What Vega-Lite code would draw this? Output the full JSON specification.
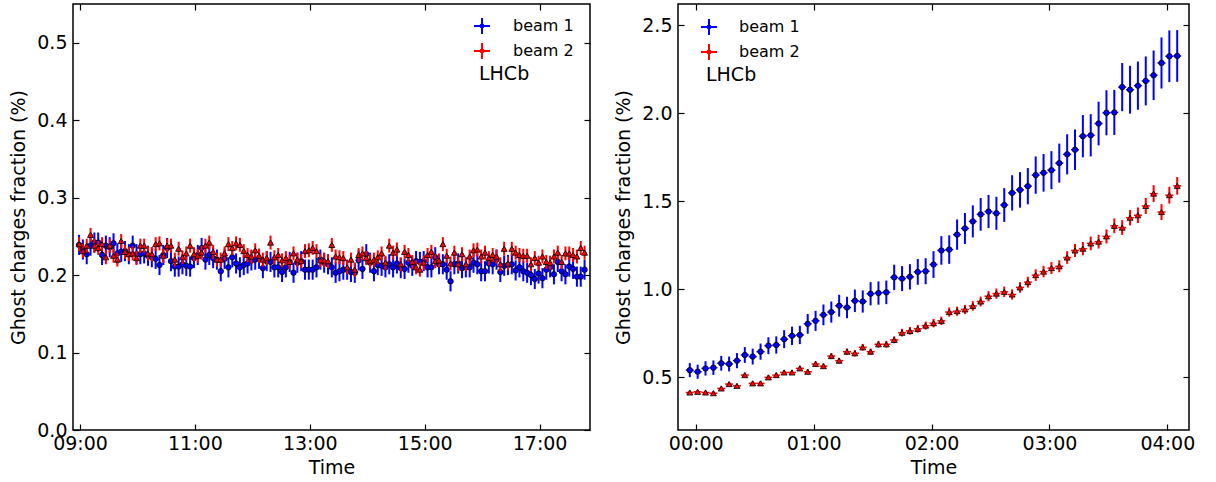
{
"$schema": "https://vega.github.io/schema/vega-lite/v6.json",
"padding": {"left": 9, "top": 2, "right": 0, "bottom": 0},
"config": {
  "font": "DejaVu Sans",
  "view": {"stroke": "black", "strokeWidth": 1.5},
  "axis": {"domain": false, "grid": false, "tickColor": "black", "tickWidth": 1.2, "labelColor": "black", "titleColor": "black", "labelFontSize": 19, "titleFontSize": 19, "titleFontWeight": "normal", "labelFont": "DejaVu Sans", "titleFont": "DejaVu Sans", "labelFlush": false, "labelOverlap": false}
},
"datasets": {
"left": [
{"t":"2000-01-01T08:59","b":0.239,"be":0.013,"r":0.240,"re":0.009},
{"t":"2000-01-01T09:03","b":0.233,"be":0.013,"r":0.231,"re":0.009},
{"t":"2000-01-01T09:07","b":0.227,"be":0.013,"r":0.238,"re":0.009},
{"t":"2000-01-01T09:11","b":0.238,"be":0.013,"r":0.252,"re":0.009},
{"t":"2000-01-01T09:15","b":0.242,"be":0.013,"r":0.238,"re":0.009},
{"t":"2000-01-01T09:19","b":0.242,"be":0.013,"r":0.235,"re":0.009},
{"t":"2000-01-01T09:23","b":0.226,"be":0.013,"r":0.240,"re":0.009},
{"t":"2000-01-01T09:27","b":0.238,"be":0.013,"r":0.223,"re":0.009},
{"t":"2000-01-01T09:31","b":0.236,"be":0.013,"r":0.238,"re":0.009},
{"t":"2000-01-01T09:35","b":0.241,"be":0.013,"r":0.225,"re":0.009},
{"t":"2000-01-01T09:39","b":0.228,"be":0.013,"r":0.220,"re":0.009},
{"t":"2000-01-01T09:43","b":0.230,"be":0.013,"r":0.244,"re":0.009},
{"t":"2000-01-01T09:47","b":0.231,"be":0.013,"r":0.230,"re":0.009},
{"t":"2000-01-01T09:51","b":0.227,"be":0.013,"r":0.227,"re":0.009},
{"t":"2000-01-01T09:55","b":0.238,"be":0.013,"r":0.228,"re":0.009},
{"t":"2000-01-01T09:59","b":0.227,"be":0.013,"r":0.222,"re":0.009},
{"t":"2000-01-01T10:03","b":0.227,"be":0.013,"r":0.238,"re":0.009},
{"t":"2000-01-01T10:07","b":0.228,"be":0.013,"r":0.238,"re":0.009},
{"t":"2000-01-01T10:11","b":0.225,"be":0.013,"r":0.228,"re":0.009},
{"t":"2000-01-01T10:15","b":0.223,"be":0.013,"r":0.227,"re":0.009},
{"t":"2000-01-01T10:19","b":0.221,"be":0.013,"r":0.240,"re":0.009},
{"t":"2000-01-01T10:23","b":0.213,"be":0.013,"r":0.241,"re":0.009},
{"t":"2000-01-01T10:27","b":0.226,"be":0.013,"r":0.225,"re":0.009},
{"t":"2000-01-01T10:31","b":0.235,"be":0.013,"r":0.238,"re":0.009},
{"t":"2000-01-01T10:35","b":0.218,"be":0.013,"r":0.238,"re":0.009},
{"t":"2000-01-01T10:39","b":0.211,"be":0.013,"r":0.220,"re":0.009},
{"t":"2000-01-01T10:43","b":0.211,"be":0.013,"r":0.234,"re":0.009},
{"t":"2000-01-01T10:47","b":0.214,"be":0.013,"r":0.223,"re":0.009},
{"t":"2000-01-01T10:51","b":0.212,"be":0.013,"r":0.228,"re":0.009},
{"t":"2000-01-01T10:55","b":0.211,"be":0.013,"r":0.238,"re":0.009},
{"t":"2000-01-01T10:59","b":0.222,"be":0.013,"r":0.227,"re":0.009},
{"t":"2000-01-01T11:03","b":0.226,"be":0.013,"r":0.225,"re":0.009},
{"t":"2000-01-01T11:07","b":0.235,"be":0.013,"r":0.229,"re":0.009},
{"t":"2000-01-01T11:11","b":0.220,"be":0.013,"r":0.238,"re":0.009},
{"t":"2000-01-01T11:15","b":0.226,"be":0.013,"r":0.242,"re":0.009},
{"t":"2000-01-01T11:19","b":0.222,"be":0.013,"r":0.230,"re":0.009},
{"t":"2000-01-01T11:23","b":0.220,"be":0.013,"r":0.220,"re":0.009},
{"t":"2000-01-01T11:27","b":0.205,"be":0.013,"r":0.220,"re":0.009},
{"t":"2000-01-01T11:31","b":0.221,"be":0.013,"r":0.228,"re":0.009},
{"t":"2000-01-01T11:35","b":0.210,"be":0.013,"r":0.240,"re":0.009},
{"t":"2000-01-01T11:39","b":0.223,"be":0.013,"r":0.235,"re":0.009},
{"t":"2000-01-01T11:43","b":0.215,"be":0.013,"r":0.241,"re":0.009},
{"t":"2000-01-01T11:47","b":0.210,"be":0.013,"r":0.239,"re":0.009},
{"t":"2000-01-01T11:51","b":0.213,"be":0.013,"r":0.231,"re":0.009},
{"t":"2000-01-01T11:55","b":0.215,"be":0.013,"r":0.226,"re":0.009},
{"t":"2000-01-01T11:59","b":0.219,"be":0.013,"r":0.224,"re":0.009},
{"t":"2000-01-01T12:03","b":0.220,"be":0.013,"r":0.232,"re":0.009},
{"t":"2000-01-01T12:07","b":0.221,"be":0.013,"r":0.225,"re":0.009},
{"t":"2000-01-01T12:11","b":0.209,"be":0.013,"r":0.220,"re":0.009},
{"t":"2000-01-01T12:15","b":0.218,"be":0.013,"r":0.222,"re":0.009},
{"t":"2000-01-01T12:19","b":0.217,"be":0.013,"r":0.242,"re":0.009},
{"t":"2000-01-01T12:23","b":0.210,"be":0.013,"r":0.223,"re":0.009},
{"t":"2000-01-01T12:27","b":0.210,"be":0.013,"r":0.226,"re":0.009},
{"t":"2000-01-01T12:31","b":0.204,"be":0.013,"r":0.219,"re":0.009},
{"t":"2000-01-01T12:35","b":0.210,"be":0.013,"r":0.222,"re":0.009},
{"t":"2000-01-01T12:39","b":0.217,"be":0.013,"r":0.217,"re":0.009},
{"t":"2000-01-01T12:43","b":0.203,"be":0.013,"r":0.228,"re":0.009},
{"t":"2000-01-01T12:47","b":0.216,"be":0.013,"r":0.220,"re":0.009},
{"t":"2000-01-01T12:51","b":0.218,"be":0.013,"r":0.218,"re":0.009},
{"t":"2000-01-01T12:55","b":0.207,"be":0.013,"r":0.231,"re":0.009},
{"t":"2000-01-01T12:59","b":0.207,"be":0.013,"r":0.232,"re":0.009},
{"t":"2000-01-01T13:03","b":0.207,"be":0.013,"r":0.235,"re":0.009},
{"t":"2000-01-01T13:07","b":0.210,"be":0.013,"r":0.231,"re":0.009},
{"t":"2000-01-01T13:11","b":0.220,"be":0.013,"r":0.219,"re":0.009},
{"t":"2000-01-01T13:15","b":0.216,"be":0.013,"r":0.219,"re":0.009},
{"t":"2000-01-01T13:19","b":0.214,"be":0.013,"r":0.218,"re":0.009},
{"t":"2000-01-01T13:23","b":0.210,"be":0.013,"r":0.239,"re":0.009},
{"t":"2000-01-01T13:27","b":0.203,"be":0.013,"r":0.224,"re":0.009},
{"t":"2000-01-01T13:31","b":0.205,"be":0.013,"r":0.223,"re":0.009},
{"t":"2000-01-01T13:35","b":0.207,"be":0.013,"r":0.222,"re":0.009},
{"t":"2000-01-01T13:39","b":0.207,"be":0.013,"r":0.210,"re":0.009},
{"t":"2000-01-01T13:43","b":0.204,"be":0.013,"r":0.220,"re":0.009},
{"t":"2000-01-01T13:47","b":0.203,"be":0.013,"r":0.207,"re":0.009},
{"t":"2000-01-01T13:51","b":0.219,"be":0.013,"r":0.226,"re":0.009},
{"t":"2000-01-01T13:55","b":0.208,"be":0.013,"r":0.228,"re":0.009},
{"t":"2000-01-01T13:59","b":0.227,"be":0.013,"r":0.222,"re":0.009},
{"t":"2000-01-01T14:03","b":0.216,"be":0.013,"r":0.218,"re":0.009},
{"t":"2000-01-01T14:07","b":0.205,"be":0.013,"r":0.220,"re":0.009},
{"t":"2000-01-01T14:11","b":0.213,"be":0.013,"r":0.223,"re":0.009},
{"t":"2000-01-01T14:15","b":0.212,"be":0.013,"r":0.228,"re":0.009},
{"t":"2000-01-01T14:19","b":0.210,"be":0.013,"r":0.216,"re":0.009},
{"t":"2000-01-01T14:23","b":0.214,"be":0.013,"r":0.238,"re":0.009},
{"t":"2000-01-01T14:27","b":0.210,"be":0.013,"r":0.229,"re":0.009},
{"t":"2000-01-01T14:31","b":0.215,"be":0.013,"r":0.233,"re":0.009},
{"t":"2000-01-01T14:35","b":0.209,"be":0.013,"r":0.214,"re":0.009},
{"t":"2000-01-01T14:39","b":0.208,"be":0.013,"r":0.230,"re":0.009},
{"t":"2000-01-01T14:43","b":0.216,"be":0.013,"r":0.226,"re":0.009},
{"t":"2000-01-01T14:47","b":0.212,"be":0.013,"r":0.217,"re":0.009},
{"t":"2000-01-01T14:51","b":0.218,"be":0.013,"r":0.210,"re":0.009},
{"t":"2000-01-01T14:55","b":0.217,"be":0.013,"r":0.207,"re":0.009},
{"t":"2000-01-01T14:59","b":0.218,"be":0.013,"r":0.216,"re":0.009},
{"t":"2000-01-01T15:03","b":0.210,"be":0.013,"r":0.226,"re":0.009},
{"t":"2000-01-01T15:07","b":0.210,"be":0.013,"r":0.230,"re":0.009},
{"t":"2000-01-01T15:11","b":0.223,"be":0.013,"r":0.218,"re":0.009},
{"t":"2000-01-01T15:15","b":0.214,"be":0.013,"r":0.219,"re":0.009},
{"t":"2000-01-01T15:19","b":0.214,"be":0.013,"r":0.240,"re":0.009},
{"t":"2000-01-01T15:23","b":0.207,"be":0.013,"r":0.225,"re":0.009},
{"t":"2000-01-01T15:27","b":0.192,"be":0.013,"r":0.215,"re":0.009},
{"t":"2000-01-01T15:31","b":0.214,"be":0.013,"r":0.229,"re":0.009},
{"t":"2000-01-01T15:35","b":0.215,"be":0.013,"r":0.214,"re":0.009},
{"t":"2000-01-01T15:39","b":0.209,"be":0.013,"r":0.227,"re":0.009},
{"t":"2000-01-01T15:43","b":0.210,"be":0.013,"r":0.214,"re":0.009},
{"t":"2000-01-01T15:47","b":0.210,"be":0.013,"r":0.224,"re":0.009},
{"t":"2000-01-01T15:51","b":0.216,"be":0.013,"r":0.232,"re":0.009},
{"t":"2000-01-01T15:55","b":0.214,"be":0.013,"r":0.233,"re":0.009},
{"t":"2000-01-01T15:59","b":0.205,"be":0.013,"r":0.224,"re":0.009},
{"t":"2000-01-01T16:03","b":0.205,"be":0.013,"r":0.229,"re":0.009},
{"t":"2000-01-01T16:07","b":0.215,"be":0.013,"r":0.222,"re":0.009},
{"t":"2000-01-01T16:11","b":0.214,"be":0.013,"r":0.226,"re":0.009},
{"t":"2000-01-01T16:15","b":0.220,"be":0.013,"r":0.224,"re":0.009},
{"t":"2000-01-01T16:19","b":0.204,"be":0.013,"r":0.214,"re":0.009},
{"t":"2000-01-01T16:23","b":0.212,"be":0.013,"r":0.234,"re":0.009},
{"t":"2000-01-01T16:27","b":0.213,"be":0.013,"r":0.215,"re":0.009},
{"t":"2000-01-01T16:31","b":0.214,"be":0.013,"r":0.234,"re":0.009},
{"t":"2000-01-01T16:35","b":0.206,"be":0.013,"r":0.229,"re":0.009},
{"t":"2000-01-01T16:39","b":0.210,"be":0.013,"r":0.226,"re":0.009},
{"t":"2000-01-01T16:43","b":0.205,"be":0.013,"r":0.225,"re":0.009},
{"t":"2000-01-01T16:47","b":0.203,"be":0.013,"r":0.225,"re":0.009},
{"t":"2000-01-01T16:51","b":0.200,"be":0.013,"r":0.214,"re":0.009},
{"t":"2000-01-01T16:55","b":0.195,"be":0.013,"r":0.222,"re":0.009},
{"t":"2000-01-01T16:59","b":0.202,"be":0.013,"r":0.216,"re":0.009},
{"t":"2000-01-01T17:03","b":0.196,"be":0.013,"r":0.224,"re":0.009},
{"t":"2000-01-01T17:07","b":0.207,"be":0.013,"r":0.217,"re":0.009},
{"t":"2000-01-01T17:11","b":0.210,"be":0.013,"r":0.216,"re":0.009},
{"t":"2000-01-01T17:15","b":0.201,"be":0.013,"r":0.224,"re":0.009},
{"t":"2000-01-01T17:19","b":0.217,"be":0.013,"r":0.229,"re":0.009},
{"t":"2000-01-01T17:23","b":0.205,"be":0.013,"r":0.217,"re":0.009},
{"t":"2000-01-01T17:27","b":0.201,"be":0.013,"r":0.228,"re":0.009},
{"t":"2000-01-01T17:31","b":0.211,"be":0.013,"r":0.228,"re":0.009},
{"t":"2000-01-01T17:35","b":0.208,"be":0.013,"r":0.226,"re":0.009},
{"t":"2000-01-01T17:39","b":0.198,"be":0.013,"r":0.224,"re":0.009},
{"t":"2000-01-01T17:43","b":0.198,"be":0.013,"r":0.235,"re":0.009},
{"t":"2000-01-01T17:47","b":0.207,"be":0.013,"r":0.229,"re":0.009}
],
"right": [
{"t":"2000-01-01T23:57","b":0.540,"be":0.040,"r":0.413,"re":0.010},
{"t":"2000-01-02T00:01","b":0.531,"be":0.040,"r":0.417,"re":0.010},
{"t":"2000-01-02T00:05","b":0.550,"be":0.041,"r":0.413,"re":0.010},
{"t":"2000-01-02T00:09","b":0.554,"be":0.041,"r":0.409,"re":0.010},
{"t":"2000-01-02T00:13","b":0.579,"be":0.042,"r":0.436,"re":0.011},
{"t":"2000-01-02T00:17","b":0.575,"be":0.042,"r":0.461,"re":0.012},
{"t":"2000-01-02T00:21","b":0.594,"be":0.043,"r":0.451,"re":0.011},
{"t":"2000-01-02T00:25","b":0.626,"be":0.045,"r":0.512,"re":0.013},
{"t":"2000-01-02T00:29","b":0.617,"be":0.045,"r":0.465,"re":0.012},
{"t":"2000-01-02T00:33","b":0.645,"be":0.046,"r":0.465,"re":0.012},
{"t":"2000-01-02T00:37","b":0.679,"be":0.048,"r":0.499,"re":0.013},
{"t":"2000-01-02T00:41","b":0.683,"be":0.049,"r":0.512,"re":0.013},
{"t":"2000-01-02T00:45","b":0.716,"be":0.051,"r":0.527,"re":0.014},
{"t":"2000-01-02T00:49","b":0.735,"be":0.052,"r":0.527,"re":0.014},
{"t":"2000-01-02T00:53","b":0.740,"be":0.052,"r":0.550,"re":0.015},
{"t":"2000-01-02T00:57","b":0.803,"be":0.056,"r":0.531,"re":0.014},
{"t":"2000-01-02T01:01","b":0.820,"be":0.057,"r":0.575,"re":0.016},
{"t":"2000-01-02T01:05","b":0.854,"be":0.059,"r":0.563,"re":0.015},
{"t":"2000-01-02T01:09","b":0.870,"be":0.060,"r":0.620,"re":0.017},
{"t":"2000-01-02T01:13","b":0.906,"be":0.062,"r":0.594,"re":0.016},
{"t":"2000-01-02T01:17","b":0.896,"be":0.061,"r":0.645,"re":0.018},
{"t":"2000-01-02T01:21","b":0.934,"be":0.064,"r":0.636,"re":0.018},
{"t":"2000-01-02T01:25","b":0.930,"be":0.063,"r":0.670,"re":0.019},
{"t":"2000-01-02T01:29","b":0.974,"be":0.066,"r":0.645,"re":0.018},
{"t":"2000-01-02T01:33","b":0.978,"be":0.066,"r":0.687,"re":0.019},
{"t":"2000-01-02T01:37","b":0.982,"be":0.067,"r":0.687,"re":0.019},
{"t":"2000-01-02T01:41","b":1.067,"be":0.072,"r":0.712,"re":0.020},
{"t":"2000-01-02T01:45","b":1.060,"be":0.071,"r":0.753,"re":0.022},
{"t":"2000-01-02T01:49","b":1.070,"be":0.072,"r":0.763,"re":0.022},
{"t":"2000-01-02T01:53","b":1.098,"be":0.073,"r":0.775,"re":0.022},
{"t":"2000-01-02T01:57","b":1.102,"be":0.074,"r":0.793,"re":0.023},
{"t":"2000-01-02T02:01","b":1.140,"be":0.076,"r":0.807,"re":0.024},
{"t":"2000-01-02T02:05","b":1.220,"be":0.081,"r":0.820,"re":0.024},
{"t":"2000-01-02T02:09","b":1.225,"be":0.081,"r":0.870,"re":0.026},
{"t":"2000-01-02T02:13","b":1.310,"be":0.086,"r":0.875,"re":0.026},
{"t":"2000-01-02T02:17","b":1.345,"be":0.088,"r":0.885,"re":0.026},
{"t":"2000-01-02T02:21","b":1.385,"be":0.091,"r":0.905,"re":0.027},
{"t":"2000-01-02T02:25","b":1.425,"be":0.093,"r":0.930,"re":0.028},
{"t":"2000-01-02T02:29","b":1.441,"be":0.094,"r":0.960,"re":0.029},
{"t":"2000-01-02T02:33","b":1.431,"be":0.094,"r":0.975,"re":0.029},
{"t":"2000-01-02T02:37","b":1.478,"be":0.096,"r":0.985,"re":0.030},
{"t":"2000-01-02T02:41","b":1.547,"be":0.100,"r":0.970,"re":0.029},
{"t":"2000-01-02T02:45","b":1.564,"be":0.101,"r":1.010,"re":0.030},
{"t":"2000-01-02T02:49","b":1.585,"be":0.103,"r":1.040,"re":0.031},
{"t":"2000-01-02T02:53","b":1.648,"be":0.106,"r":1.080,"re":0.033},
{"t":"2000-01-02T02:57","b":1.661,"be":0.107,"r":1.100,"re":0.033},
{"t":"2000-01-02T03:01","b":1.676,"be":0.108,"r":1.120,"re":0.034},
{"t":"2000-01-02T03:05","b":1.716,"be":0.111,"r":1.130,"re":0.034},
{"t":"2000-01-02T03:09","b":1.766,"be":0.114,"r":1.180,"re":0.036},
{"t":"2000-01-02T03:13","b":1.792,"be":0.115,"r":1.220,"re":0.037},
{"t":"2000-01-02T03:17","b":1.869,"be":0.120,"r":1.230,"re":0.038},
{"t":"2000-01-02T03:21","b":1.874,"be":0.120,"r":1.260,"re":0.039},
{"t":"2000-01-02T03:25","b":1.941,"be":0.124,"r":1.270,"re":0.039},
{"t":"2000-01-02T03:29","b":2.002,"be":0.128,"r":1.300,"re":0.040},
{"t":"2000-01-02T03:33","b":2.004,"be":0.128,"r":1.360,"re":0.042},
{"t":"2000-01-02T03:37","b":2.148,"be":0.137,"r":1.350,"re":0.042},
{"t":"2000-01-02T03:41","b":2.133,"be":0.136,"r":1.406,"re":0.044},
{"t":"2000-01-02T03:45","b":2.156,"be":0.137,"r":1.420,"re":0.044},
{"t":"2000-01-02T03:49","b":2.183,"be":0.139,"r":1.473,"re":0.046},
{"t":"2000-01-02T03:53","b":2.215,"be":0.141,"r":1.543,"re":0.048},
{"t":"2000-01-02T03:57","b":2.285,"be":0.145,"r":1.438,"re":0.045},
{"t":"2000-01-02T04:01","b":2.323,"be":0.147,"r":1.534,"re":0.048},
{"t":"2000-01-02T04:05","b":2.325,"be":0.147,"r":1.587,"re":0.050}
]
},
"hconcat": [
{
  "width": 517, "height": 426,
  "data": {"name": "left"},
  "resolve": {"axis": {"x": "independent", "y": "independent"}},
  "layer": [
    {"mark": {"type": "errorbar", "thickness": 2},
     "encoding": {
       "x": {"field": "t", "type": "temporal",
             "scale": {"nice": false, "domain": [{"year":2000,"month":1,"date":1,"hours":8,"minutes":52,"seconds":40},{"year":2000,"month":1,"date":1,"hours":17,"minutes":52,"seconds":40}]},
             "axis": {"orient": "bottom", "values": [{"year":2000,"month":1,"date":1,"hours":9},{"year":2000,"month":1,"date":1,"hours":11},{"year":2000,"month":1,"date":1,"hours":13},{"year":2000,"month":1,"date":1,"hours":15},{"year":2000,"month":1,"date":1,"hours":17}], "format": "%H:%M", "title": "Time", "tickSize": -6, "labelPadding": 10, "titlePadding": 5}},
       "y": {"field": "b", "type": "quantitative", "scale": {"nice": false, "zero": false, "domain": [0, 0.55]},
             "axis": {"orient": "left", "values": [0, 0.1, 0.2, 0.3, 0.4, 0.5], "format": ".1f", "title": "Ghost charges fraction (%)", "tickSize": -6, "labelPadding": 12, "titlePadding": 8}},
       "yError": {"field": "be"},
       "color": {"datum": "beam 1", "type": "nominal", "scale": {"domain": ["beam 1", "beam 2"], "range": ["#0000ff", "#ff0000"]},
         "legend": {"orient": "none", "legendX": 406, "legendY": 13, "title": "LHCb", "titleOrient": "bottom", "titleFontSize": 19, "titleFontWeight": "normal", "titleColor": "black", "titleAnchor": "start", "titlePadding": 2, "labelFontSize": 16, "labelColor": "black", "labelOffset": 22, "symbolSize": 256, "symbolOffset": -6, "rowPadding": 1, "padding": 0, "symbolOpacity": 1, "symbolStrokeWidth": 2,
           "symbolType": "M-1,0L1,0M0,-1L0,1M0.18,0A0.18,0.18,0,1,1,-0.18,0A0.18,0.18,0,1,1,0.18,0Z"}}}},
    {"mark": {"type": "tick", "orient": "horizontal", "size": 4, "thickness": 1.5, "color": "#0000ff", "opacity": 1},
     "encoding": {"x": {"field": "t", "type": "temporal", "axis": null}, "y": {"field": "b", "type": "quantitative", "axis": null}}},
    {"mark": {"type": "point", "shape": "circle", "filled": true, "size": 30, "color": "#0000ff", "stroke": "black", "strokeWidth": 0.8, "opacity": 1},
     "encoding": {"x": {"field": "t", "type": "temporal", "axis": null}, "y": {"field": "b", "type": "quantitative", "axis": null}}},
    {"mark": {"type": "errorbar", "thickness": 2},
     "encoding": {"x": {"field": "t", "type": "temporal", "axis": null}, "y": {"field": "r", "type": "quantitative", "axis": null}, "yError": {"field": "re"},
       "color": {"datum": "beam 2", "type": "nominal"}}},
    {"mark": {"type": "tick", "orient": "horizontal", "size": 4, "thickness": 1.5, "color": "#ff0000", "opacity": 1},
     "encoding": {"x": {"field": "t", "type": "temporal", "axis": null}, "y": {"field": "r", "type": "quantitative", "axis": null}}},
    {"mark": {"type": "point", "shape": "triangle-up", "filled": true, "size": 36, "color": "#ff0000", "stroke": "black", "strokeWidth": 0.8, "opacity": 1},
     "encoding": {
       "x": {"field": "t", "type": "temporal", "axis": {"orient": "top", "values": [{"year":2000,"month":1,"date":1,"hours":9},{"year":2000,"month":1,"date":1,"hours":11},{"year":2000,"month":1,"date":1,"hours":13},{"year":2000,"month":1,"date":1,"hours":15},{"year":2000,"month":1,"date":1,"hours":17}], "labels": false, "title": null, "tickSize": -6}},
       "y": {"field": "r", "type": "quantitative", "axis": {"orient": "right", "values": [0, 0.1, 0.2, 0.3, 0.4, 0.5], "labels": false, "title": null, "tickSize": -6}}}}
  ]
},
{
  "width": 511, "height": 426,
  "data": {"name": "right"},
  "resolve": {"axis": {"x": "independent", "y": "independent"}},
  "layer": [
    {"mark": {"type": "errorbar", "thickness": 2},
     "encoding": {
       "x": {"field": "t", "type": "temporal",
             "scale": {"nice": false, "domain": [{"year":2000,"month":1,"date":1,"hours":23,"minutes":51},{"year":2000,"month":1,"date":2,"hours":4,"minutes":11}]},
             "axis": {"orient": "bottom", "values": [{"year":2000,"month":1,"date":2,"hours":0},{"year":2000,"month":1,"date":2,"hours":1},{"year":2000,"month":1,"date":2,"hours":2},{"year":2000,"month":1,"date":2,"hours":3},{"year":2000,"month":1,"date":2,"hours":4}], "format": "%H:%M", "title": "Time", "tickSize": -6, "labelPadding": 10, "titlePadding": 5}},
       "y": {"field": "b", "type": "quantitative", "scale": {"nice": false, "zero": false, "domain": [0.2, 2.62]},
             "axis": {"orient": "left", "values": [0.5, 1.0, 1.5, 2.0, 2.5], "format": ".1f", "title": "Ghost charges fraction (%)", "tickSize": -6, "labelPadding": 12, "titlePadding": 8}},
       "yError": {"field": "be"},
       "color": {"datum": "beam 1", "type": "nominal", "scale": {"domain": ["beam 1", "beam 2"], "range": ["#0000ff", "#ff0000"]},
         "legend": {"orient": "none", "legendX": 28, "legendY": 14, "title": "LHCb", "titleOrient": "bottom", "titleFontSize": 19, "titleFontWeight": "normal", "titleColor": "black", "titleAnchor": "start", "titlePadding": 2, "labelFontSize": 16, "labelColor": "black", "labelOffset": 21, "symbolSize": 256, "symbolOffset": -6, "rowPadding": 1, "padding": 0, "symbolOpacity": 1, "symbolStrokeWidth": 2,
           "symbolType": "M-1,0L1,0M0,-1L0,1M0.18,0A0.18,0.18,0,1,1,-0.18,0A0.18,0.18,0,1,1,0.18,0Z"}}}},
    {"mark": {"type": "tick", "orient": "horizontal", "size": 8, "thickness": 1.5, "color": "#0000ff", "opacity": 1},
     "encoding": {"x": {"field": "t", "type": "temporal", "axis": null}, "y": {"field": "b", "type": "quantitative", "axis": null}}},
    {"mark": {"type": "point", "shape": "circle", "filled": true, "size": 30, "color": "#0000ff", "stroke": "black", "strokeWidth": 0.8, "opacity": 1},
     "encoding": {"x": {"field": "t", "type": "temporal", "axis": null}, "y": {"field": "b", "type": "quantitative", "axis": null}}},
    {"mark": {"type": "errorbar", "thickness": 2},
     "encoding": {"x": {"field": "t", "type": "temporal", "axis": null}, "y": {"field": "r", "type": "quantitative", "axis": null}, "yError": {"field": "re"},
       "color": {"datum": "beam 2", "type": "nominal"}}},
    {"mark": {"type": "tick", "orient": "horizontal", "size": 8, "thickness": 1.5, "color": "#ff0000", "opacity": 1},
     "encoding": {"x": {"field": "t", "type": "temporal", "axis": null}, "y": {"field": "r", "type": "quantitative", "axis": null}}},
    {"mark": {"type": "point", "shape": "triangle-up", "filled": true, "size": 36, "color": "#ff0000", "stroke": "black", "strokeWidth": 0.8, "opacity": 1},
     "encoding": {
       "x": {"field": "t", "type": "temporal", "axis": {"orient": "top", "values": [{"year":2000,"month":1,"date":2,"hours":0},{"year":2000,"month":1,"date":2,"hours":1},{"year":2000,"month":1,"date":2,"hours":2},{"year":2000,"month":1,"date":2,"hours":3},{"year":2000,"month":1,"date":2,"hours":4}], "labels": false, "title": null, "tickSize": -6}},
       "y": {"field": "r", "type": "quantitative", "axis": {"orient": "right", "values": [0.5, 1.0, 1.5, 2.0, 2.5], "labels": false, "title": null, "tickSize": -6}}}}
  ]
}
],
"spacing": 22,
"resolve": {"scale": {"color": "independent"}}
}
